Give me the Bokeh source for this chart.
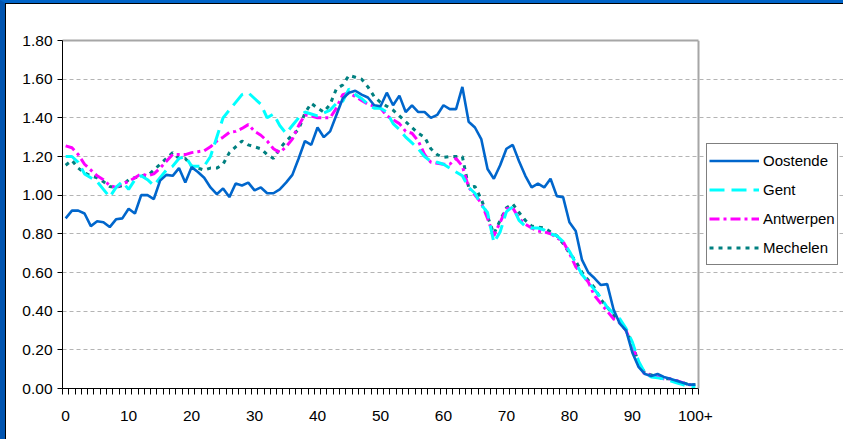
from bokeh.plotting import figure
from bokeh.models import (FixedTicker, NumeralTickFormatter, Legend, LegendItem,
                          ColumnDataSource, LinearAxis, Span)
from bokeh.embed import file_html
from bokeh.resources import INLINE

ages = list(range(101))
x_tick_labels = {100: "100+"}

oostende = [0.88, 0.92, 0.92, 0.905, 0.84, 0.865, 0.86, 0.835, 0.875, 0.88,
            0.93, 0.905, 1.00, 1.00, 0.98, 1.075, 1.105, 1.10, 1.14, 1.065,
            1.145, 1.12, 1.09, 1.04, 1.005, 1.035, 0.99, 1.06, 1.05, 1.065,
            1.025, 1.04, 1.01, 1.01, 1.03, 1.065, 1.105, 1.19, 1.28, 1.26,
            1.35, 1.30, 1.33, 1.415, 1.50, 1.53, 1.54, 1.52, 1.505, 1.465,
            1.46, 1.53, 1.465, 1.515, 1.43, 1.465, 1.43, 1.43, 1.40, 1.415,
            1.465, 1.445, 1.445, 1.56, 1.38, 1.35, 1.29, 1.135, 1.085, 1.155,
            1.24, 1.26, 1.175, 1.10, 1.04, 1.06, 1.04, 1.085, 0.995, 0.99,
            0.86, 0.815, 0.665, 0.60, 0.57, 0.535, 0.54, 0.41, 0.335, 0.30,
            0.185, 0.11, 0.075, 0.065, 0.075, 0.06, 0.05, 0.04, 0.03, 0.02,
            0.02]

gent = [1.20, 1.20, 1.17, 1.11, 1.09, 1.07, 1.03, 0.99, 1.04, 1.07,
        1.03, 1.08, 1.10, 1.08, 1.05, 1.09, 1.13, 1.15, 1.19, 1.20,
        1.15, 1.15, 1.15, 1.20, 1.30, 1.40, 1.44, 1.48, 1.52, 1.53,
        1.50, 1.47, 1.40, 1.42, 1.36, 1.32, 1.36, 1.40, 1.43, 1.42,
        1.41, 1.425, 1.44, 1.475, 1.485, 1.55, 1.52, 1.50, 1.47, 1.45,
        1.45, 1.43, 1.37, 1.34, 1.30, 1.27, 1.24, 1.20, 1.175, 1.17,
        1.16, 1.14, 1.12, 1.10, 1.04, 1.01, 0.95, 0.91, 0.755, 0.81,
        0.915, 0.94, 0.87, 0.84, 0.83, 0.83, 0.82, 0.80, 0.79, 0.76,
        0.71, 0.65, 0.59, 0.55, 0.51, 0.47, 0.42, 0.39, 0.36, 0.31,
        0.24, 0.14, 0.08, 0.06, 0.055, 0.05, 0.04, 0.03, 0.02, 0.01,
        0.01]

antwerpen = [1.255, 1.245, 1.21, 1.16, 1.13, 1.10, 1.08, 1.05, 1.04, 1.06,
             1.07, 1.09, 1.11, 1.10, 1.11, 1.14, 1.175, 1.21, 1.21, 1.21,
             1.22, 1.225, 1.23, 1.25, 1.28, 1.30, 1.325, 1.33, 1.345, 1.365,
             1.33, 1.31, 1.28, 1.24, 1.22, 1.25, 1.29, 1.36, 1.415, 1.41,
             1.40, 1.40, 1.40, 1.45, 1.52, 1.53, 1.51, 1.49, 1.47, 1.46,
             1.45, 1.41, 1.39, 1.37, 1.33, 1.32, 1.28, 1.21, 1.17, 1.165,
             1.16, 1.16, 1.19, 1.15, 1.04, 1.00, 0.96, 0.88, 0.79, 0.86,
             0.93, 0.935, 0.88, 0.85, 0.83, 0.815, 0.81, 0.80, 0.78, 0.76,
             0.70, 0.63, 0.59, 0.55, 0.48, 0.44, 0.40, 0.36, 0.34, 0.30,
             0.22, 0.13, 0.07, 0.07, 0.06, 0.05, 0.05, 0.04, 0.03, 0.02,
             0.02]

mechelen = [1.155, 1.18, 1.14, 1.115, 1.10, 1.09, 1.07, 1.045, 1.04, 1.05,
            1.08, 1.09, 1.10, 1.10, 1.13, 1.16, 1.19, 1.22, 1.19, 1.19,
            1.15, 1.14, 1.13, 1.14, 1.14, 1.16, 1.22, 1.25, 1.28, 1.26,
            1.25, 1.24, 1.21, 1.19, 1.24, 1.28, 1.31, 1.34, 1.425, 1.475,
            1.45, 1.43, 1.47, 1.55, 1.57, 1.62, 1.61, 1.60, 1.56, 1.51,
            1.48, 1.46, 1.44, 1.41, 1.38, 1.35, 1.32, 1.30, 1.24, 1.21,
            1.195, 1.20, 1.20, 1.20, 1.04, 1.045, 0.98, 0.89, 0.80, 0.87,
            0.935, 0.955, 0.91, 0.87, 0.84, 0.835, 0.83, 0.81, 0.79, 0.75,
            0.70, 0.66, 0.60, 0.56, 0.52, 0.46, 0.42, 0.38, 0.35, 0.30,
            0.23, 0.13, 0.08, 0.07, 0.06, 0.05, 0.05, 0.04, 0.03, 0.02,
            0.02]

series_names = ["Oostende", "Gent", "Antwerpen", "Mechelen"]
y_ticks = [0.0, 0.2, 0.4, 0.6, 0.8, 1.0, 1.2, 1.4, 1.6, 1.8]
x_ticks = [0, 10, 20, 30, 40, 50, 60, 70, 80, 90, 100]

FONT = "Liberation Sans"
STYLES = {
    "Oostende": dict(line_color="#0066CC", line_width=2.6),
    "Gent": dict(line_color="#00FFFF", line_width=3, line_dash="15 7"),
    "Antwerpen": dict(line_color="#FF00FF", line_width=3, line_dash="10 4 3 4"),
    "Mechelen": dict(line_color="#008080", line_width=3, line_dash="4 5"),
}

# layout: category band of the plot area is 636 px for 101 ages; the frame continues
# to the right edge of the page so the legend can sit beside the plot area unclipped
PLOT_W = 636
FRAME_W = 781
x_lo = -0.5
x_hi = len(ages) - 0.5
x_end = x_lo + (x_hi - x_lo) * FRAME_W / PLOT_W

p = figure(frame_width=FRAME_W, frame_height=348, output_backend="svg", toolbar_location=None,
           x_range=(x_lo, x_end), y_range=(0, 1.8),
           min_border_left=56, min_border_right=0, min_border_top=36, min_border_bottom=51,
           background_fill_color="white", border_fill_color="white")
p.outline_line_color = None

src = ColumnDataSource(dict(age=ages, Oostende=oostende, Gent=gent,
                            Antwerpen=antwerpen, Mechelen=mechelen))

renderers = {}
for name in ["Mechelen", "Antwerpen", "Gent", "Oostende"]:
    renderers[name] = p.line("age", name, source=src, **STYLES[name])

# axes
xa = p.xaxis[0]
xa.bounds = (x_lo, x_hi)
xa.ticker = FixedTicker(ticks=x_ticks, minor_ticks=[i - 0.5 for i in range(102)])
xa.major_label_overrides = x_tick_labels
xa.major_tick_line_color = None
xa.major_tick_out = 6
xa.major_tick_in = 0
xa.minor_tick_out = 6
xa.minor_tick_in = 0
xa.minor_tick_line_color = "black"
xa.axis_line_color = "black"
xa.major_label_standoff = 16
xa.major_label_text_font = FONT
xa.major_label_text_font_size = "15.5px"
xa.major_label_text_color = "black"

ya = p.yaxis[0]
ya.ticker = FixedTicker(ticks=y_ticks)
ya.formatter = NumeralTickFormatter(format="0.00")
ya.major_tick_out = 5
ya.major_tick_in = 0
ya.minor_tick_line_color = None
ya.axis_line_color = "black"
ya.major_tick_line_color = "black"
ya.major_label_standoff = 5
ya.major_label_text_font = FONT
ya.major_label_text_font_size = "15.5px"
ya.major_label_text_color = "black"

# top border of the plot area
top = LinearAxis(bounds=(x_lo, x_hi), axis_line_color="#a6a6a6", axis_line_width=2,
                 major_tick_line_color=None, minor_tick_line_color=None,
                 major_label_text_font_size="0px", major_tick_out=0, minor_tick_out=0)
top.ticker = FixedTicker(ticks=[])
p.add_layout(top, "above")
# right border of the plot area
p.add_layout(Span(location=x_hi, dimension="height", line_color="#a6a6a6", line_width=2))

p.xgrid.grid_line_color = None
p.ygrid.ticker = FixedTicker(ticks=y_ticks)
p.ygrid.bounds = (x_lo, x_hi)
p.ygrid.grid_line_color = "#b4b4b4"
p.ygrid.grid_line_dash = "4 3"
p.ygrid.grid_line_width = 1

legend = Legend(items=[LegendItem(label=n, renderers=[renderers[n]]) for n in series_names],
                location=(644, 123))
legend.border_line_color = "black"
legend.border_line_width = 1
legend.background_fill_color = "white"
legend.background_fill_alpha = 1
legend.padding = 2
legend.margin = 0
legend.spacing = 0
legend.glyph_width = 50
legend.glyph_height = 29
legend.label_height = 29
legend.label_standoff = 4
legend.label_text_font = FONT
legend.label_text_font_size = "15px"
legend.label_text_color = "black"
p.add_layout(legend, "center")

html = file_html(p, INLINE)
css = ("<style>html{background:#ffffff;}"
       "body{background:#ffffff;margin:0;padding:1px 0 0 1px;"
       "border-left:5px solid #0054b0;border-top:3px solid #0064c8;"
       "box-shadow:inset 1px 1px 0 #000;}</style>")
html = html.replace("</head>", css + "</head>", 1)
open("out.html", "w").write(html)
